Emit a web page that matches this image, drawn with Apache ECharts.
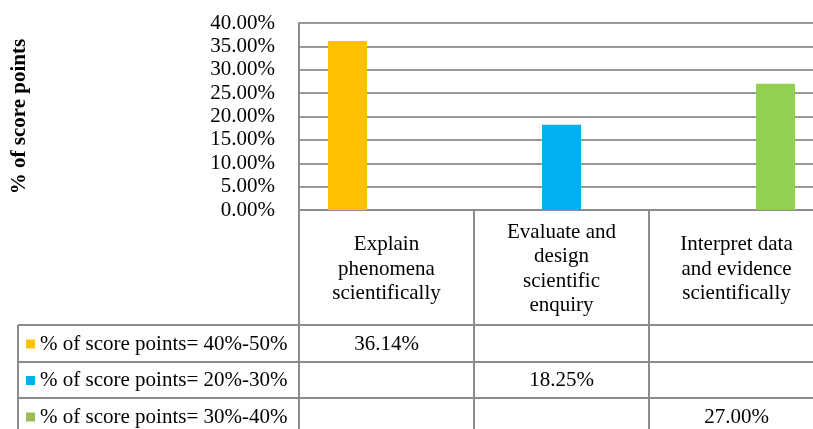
<!DOCTYPE html>
<html>
<head>
<meta charset="utf-8">
<script src="https://cdn.jsdelivr.net/npm/echarts@6/dist/echarts.min.js"></script>
<style>
  html, body { margin: 0; padding: 0; background: #fff; }
  #chart { width: 813px; height: 429px; }
</style>
</head>
<body>
<div id="chart"></div>
<script>
// categories and values (percent)
var categories = ['Explain\nphenomena\nscientifically', 'Evaluate and\ndesign\nscientific\nenquiry', 'Interpret data\nand evidence\nscientifically']
var seriesNames = ['% of score points= 40%-50%', '% of score points= 20%-30%', '% of score points= 30%-40%']
var explainValues = [36.14, '-', '-']
var evaluateValues = ['-', 18.25, '-']
var interpretValues = ['-', '-', 27.00]
var yTicks = { min: 0, max: 40, interval: 5 }

var font = 'Liberation Serif'
var fontSize = 21
var lineGray = '#8c8c8c'
var barColors = ['#FFC000', '#00B0F0', '#92D050']
var legendColors = ['#FFC000', '#00B0F0', '#9BBB59']
var rowCenters = [344, 380.5, 417] // data table rows

var chart = echarts.init(document.getElementById('chart'))
var allSeries = [explainValues, evaluateValues, interpretValues]

chart.setOption({
  animation: false,
  grid: { left: 299, top: 23, width: 525, height: 187, containLabel: false, outerBoundsMode: 'none' },
  legend: {
    orient: 'vertical',
    left: 26,
    top: 333.5,
    padding: 0,
    itemWidth: 9,
    itemHeight: 9,
    itemGap: 15.5,
    icon: 'rect',
    textStyle: { fontFamily: font, fontSize: fontSize, color: '#000' },
    data: seriesNames.map(function(n, i) {
      return { name: n, itemStyle: { color: legendColors[i] } }
    })
  },
  xAxis: {
    type: 'category',
    data: categories,
    axisLine: { lineStyle: { color: lineGray, width: 2 } },
    axisTick: { show: true, length: 219, interval: 0, lineStyle: { color: lineGray, width: 2 } },
    axisLabel: {
      interval: 0,
      margin: 59,
      verticalAlign: 'middle',
      fontFamily: font,
      fontSize: fontSize,
      lineHeight: 24.5,
      color: '#000'
    }
  },
  yAxis: {
    type: 'value',
    min: yTicks.min,
    max: yTicks.max,
    interval: yTicks.interval,
    name: '% of score points',
    nameLocation: 'middle',
    nameRotate: 90,
    nameGap: 269,
    nameTextStyle: { fontFamily: font, fontSize: fontSize, fontWeight: 'bold', color: '#000' },
    axisLine: { show: true, lineStyle: { color: lineGray, width: 2 } },
    axisTick: { show: false },
    splitLine: { lineStyle: { color: '#999', width: 2 } },
    axisLabel: {
      margin: 24,
      fontFamily: font,
      fontSize: fontSize,
      color: '#000',
      formatter: function(v) { return v.toFixed(2) + '%' }
    }
  },
  series: allSeries.map(function(d, i) {
    return {
      name: seriesNames[i],
      type: 'bar',
      data: d,
      barWidth: 39,
      barGap: '0%',
      itemStyle: { color: barColors[i] }
    }
  })
})

// data table: grid lines + values under each category
var graphics = []
var hLines = [325, 362, 398]
hLines.forEach(function(y) {
  graphics.push({ type: 'line', shape: { x1: 18, y1: y, x2: 813, y2: y }, style: { stroke: lineGray, lineWidth: 2 } })
})
graphics.push({ type: 'line', shape: { x1: 18, y1: 325, x2: 18, y2: 429 }, style: { stroke: lineGray, lineWidth: 2 } })
allSeries.forEach(function(d, row) {
  d.forEach(function(v, col) {
    if (v === '-') return
    var x = chart.convertToPixel({ xAxisIndex: 0 }, col)
    graphics.push({
      type: 'text',
      x: x,
      y: rowCenters[row],
      style: {
        text: v.toFixed(2) + '%',
        align: 'center',
        verticalAlign: 'middle',
        font: fontSize + 'px ' + font,
        fill: '#000'
      }
    })
  })
})
chart.setOption({ graphic: graphics })
</script>
</body>
</html>
